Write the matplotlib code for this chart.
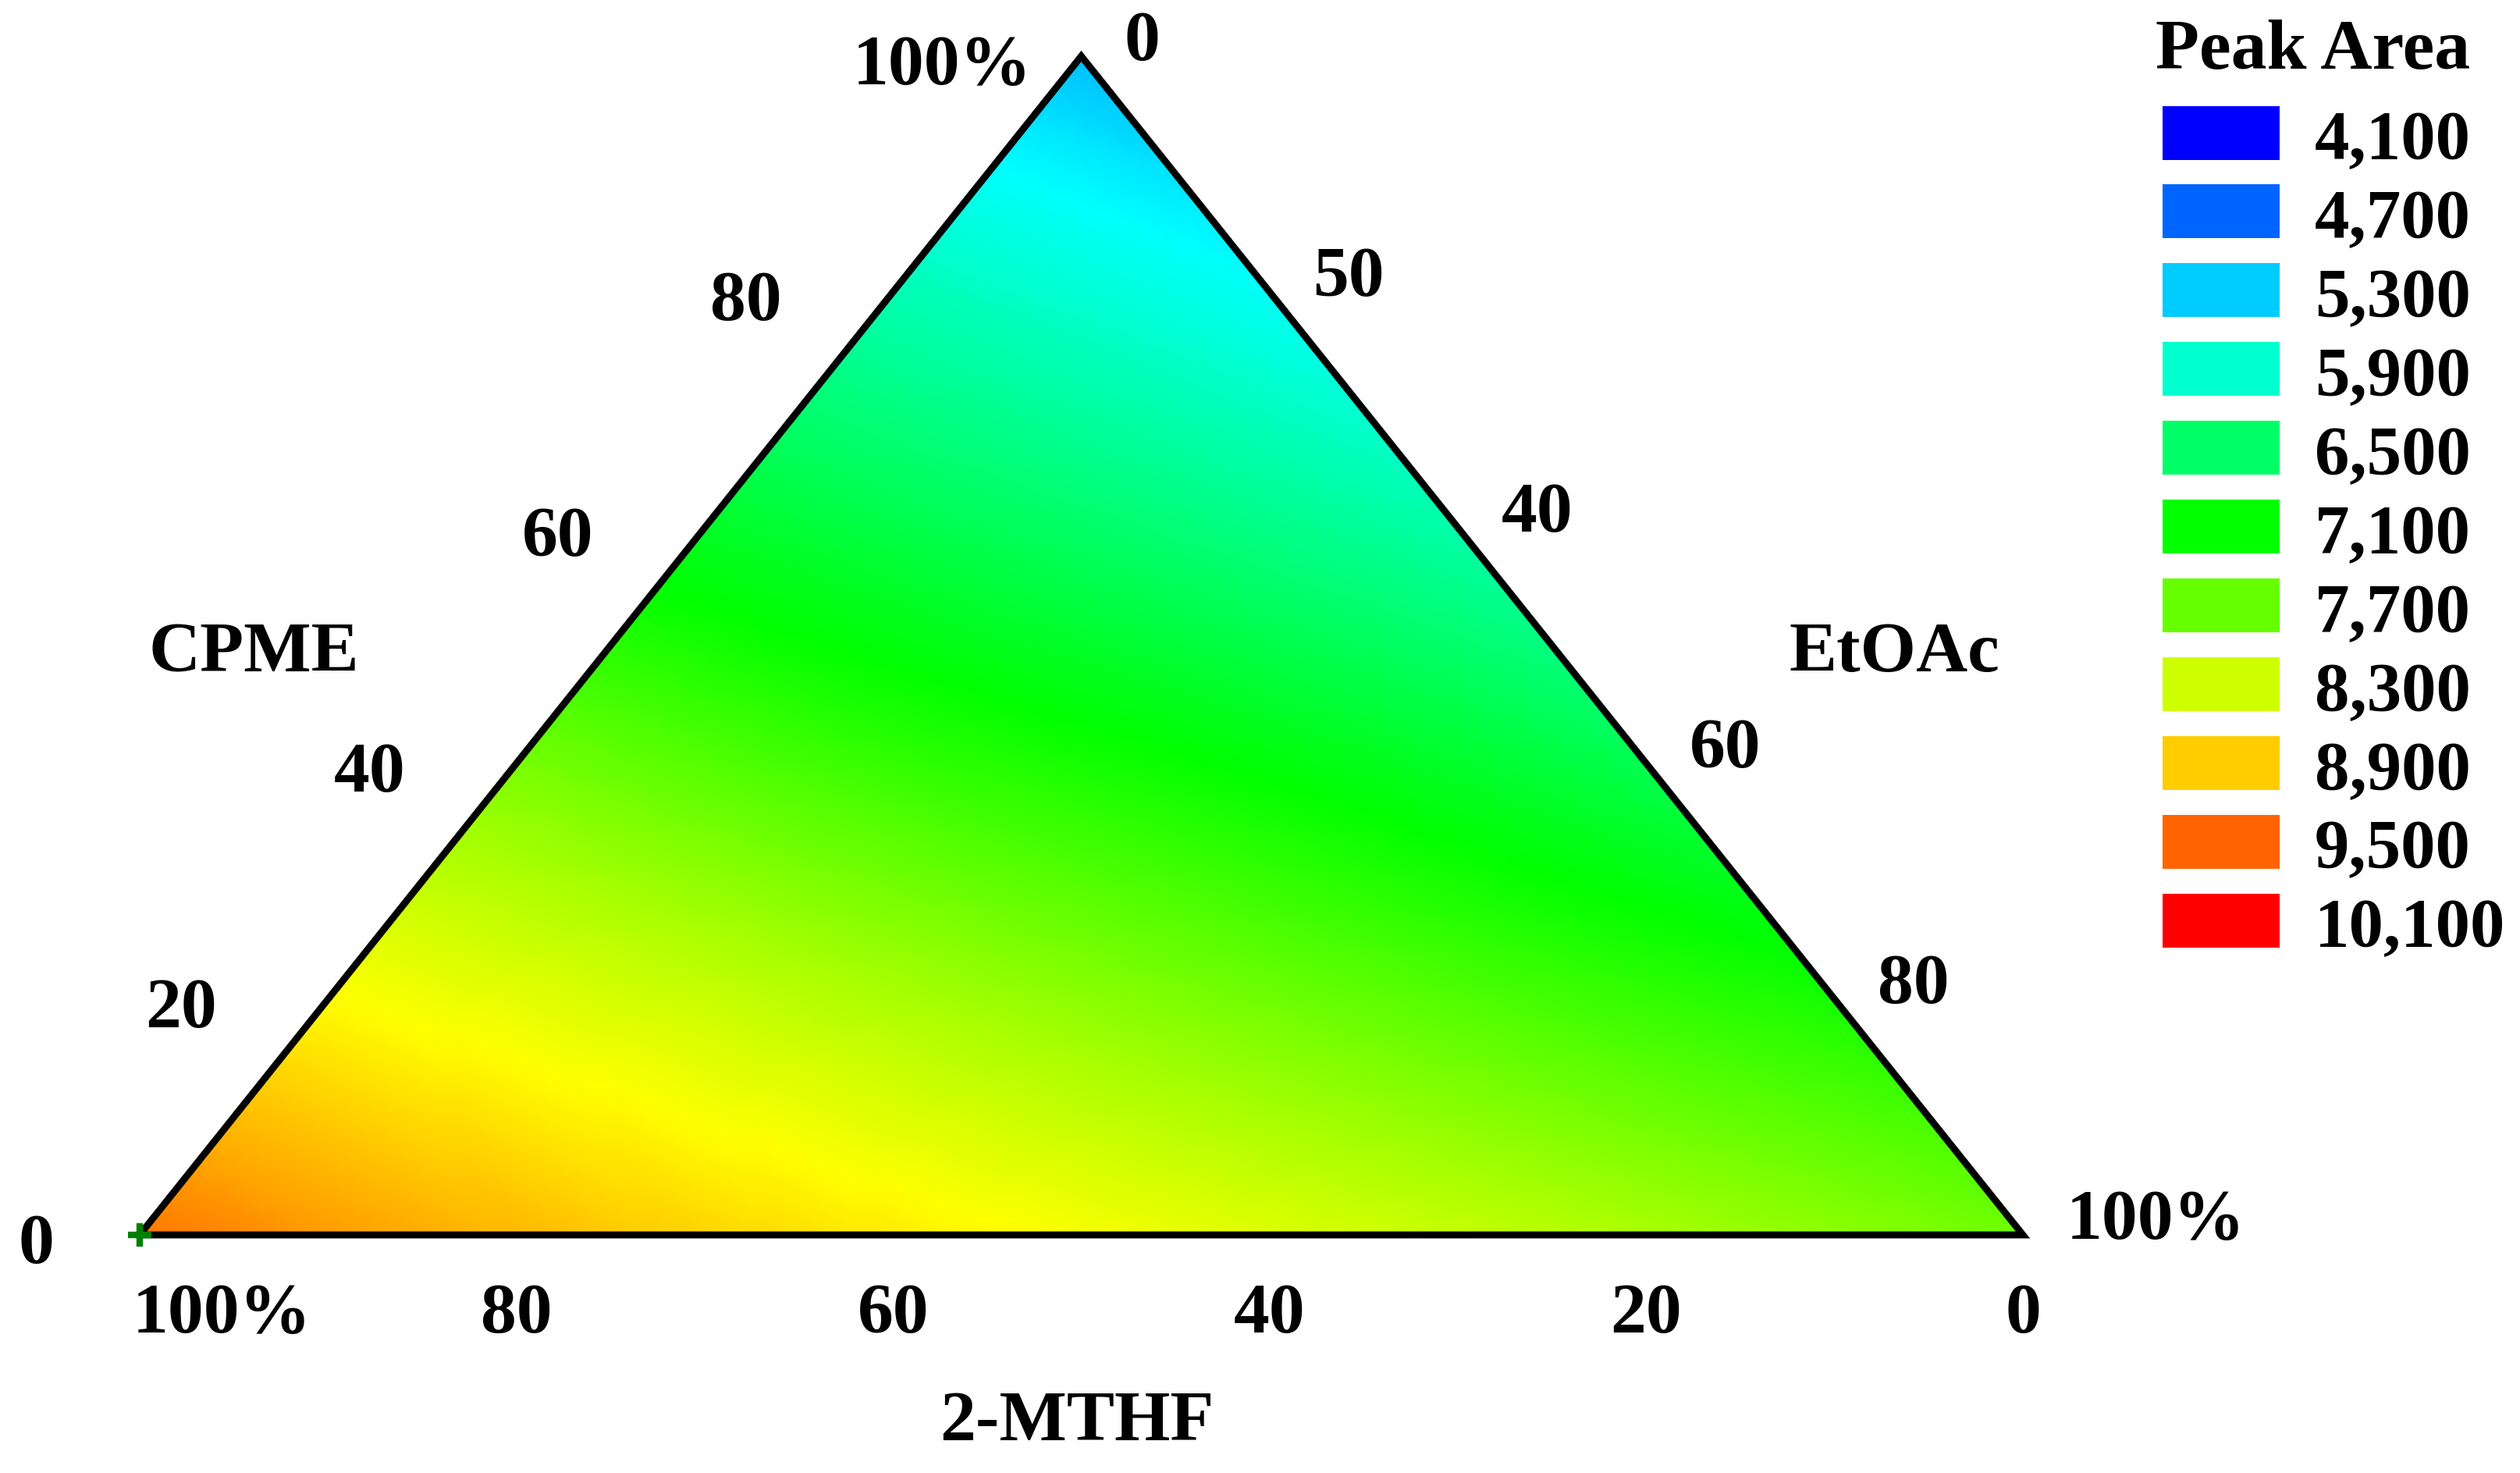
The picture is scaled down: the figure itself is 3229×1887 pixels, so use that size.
import numpy as np
import matplotlib
matplotlib.use("Agg")
from matplotlib import pyplot as plt
import matplotlib.tri as mtri
from matplotlib.colors import ListedColormap, Normalize, hsv_to_rgb
from matplotlib.patches import Rectangle

plt.rcParams['font.family'] = ['Liberation Serif', 'DejaVu Serif']
plt.rcParams['font.weight'] = 'bold'

cpme  = [0, 0, 0, 0, 0, 0,  .2, .2, .2, .2, .2,  .4, .4, .4, .4,  .6, .6, .6,  .8, .8,  1]
etoac = [0, .2, .4, .6, .8, 1,  0, .2, .4, .6, .8,  0, .2, .4, .6,  0, .2, .4,  0, .2,  0]
peak  = [9400, 9000, 8700, 8400, 8100, 7750,
         8600, 8275, 7925, 7575, 7225,
         7800, 7400, 7050, 6625,
         6875, 6500, 6100,
         6050, 5650,
         5225]

ticks = [0, .2, .4, .6, .8, 1]
mthf_labels  = ["100%", "80", "60", "40", "20", "0"]
cpme_labels  = ["0", "20", "40", "60", "80", "100%"]
etoac_labels = ["0", "50", "40", "60", "80", "100%"]

legend_vals = [4100, 4700, 5300, 5900, 6500, 7100, 7700, 8300, 8900, 9500, 10100]
legend_txt  = ["4,100", "4,700", "5,300", "5,900", "6,500", "7,100",
               "7,700", "8,300", "8,900", "9,500", "10,100"]

# hue sweep blue -> red
hue = np.linspace(240, 0, 256) / 360.0
cmap = ListedColormap(hsv_to_rgb(np.column_stack([hue, np.ones(256), np.ones(256)])))
norm = Normalize(4100, 10100)

W, H = 3230, 1887
fig = plt.figure(figsize=(W / 200, H / 200), dpi=200)
ax = fig.add_axes([179 / W, 1 - 1582 / H, (2592 - 179) / W, (1582 - 72) / H])
ax.set_xlim(0, 1)
ax.set_ylim(0, 1)
ax.axis('off')

# ternary -> cartesian
c = np.array(cpme)
e = np.array(etoac)
x = e + 0.5 * c
y = c
tri = mtri.Triangulation(x, y)
refiner = mtri.UniformTriRefiner(tri)
tri_f, z_f = refiner.refine_field(np.array(peak, float), subdiv=4)
ax.tripcolor(tri_f, z_f, cmap=cmap, norm=norm, shading='gouraud')

ax.plot([0, 1, 0.5, 0], [0, 0, 1, 0], color='black', lw=3.2,
        solid_joinstyle='miter', clip_on=False)
ax.plot([0], [0], '+', color='green', ms=11, mew=3, clip_on=False)

fs_tick = 33
t = np.array(ticks)
# bottom: 2-MTHF
for xi, lab in zip(t, mthf_labels):
    if lab.endswith('%'):
        ax.text(xi - 0.004, -0.068, lab, ha='left', va='center', fontsize=fs_tick)
    else:
        ax.text(xi, -0.068, lab, ha='center', va='center', fontsize=fs_tick)
# left: CPME
for ci, lab in zip(t, cpme_labels):
    dx = -0.055 if lab == "0" else (-0.074 if lab.endswith('%') else -0.078)
    ax.text(0.5 * ci + dx, ci - 0.009, lab, ha='center', va='center', fontsize=fs_tick)
# right: EtOAc
for ei, lab in zip(t, etoac_labels):
    ax.text(ei + 0.5 * (1 - ei) + 0.023, (1 - ei) + 0.011, lab,
            ha='left', va='center', fontsize=fs_tick)

ax.text(0.0605, 0.4927, "CPME", ha='center', va='center', fontsize=33)
ax.text(0.9316, 0.4927, "EtOAc", ha='center', va='center', fontsize=33)
ax.text(0.4977, -0.1596, "2-MTHF", ha='center', va='center', fontsize=33)

# legend in pixel space
lax = fig.add_axes([0, 0, 1, 1])
lax.set_xlim(0, W)
lax.set_ylim(H, 0)
lax.axis('off')
lax.text(2964, 66, "Peak Area", ha='center', va='center', fontsize=33)
for i, (v, lab) in enumerate(zip(legend_vals, legend_txt)):
    yc = 170 + 100.9 * i
    lax.add_patch(Rectangle((2771, yc - 34.5), 150, 69, color=cmap(norm(v)), lw=0))
    lax.text(2966, yc + 12, lab, ha='left', va='center', fontsize=32)

fig.savefig("out.png", dpi=200)
